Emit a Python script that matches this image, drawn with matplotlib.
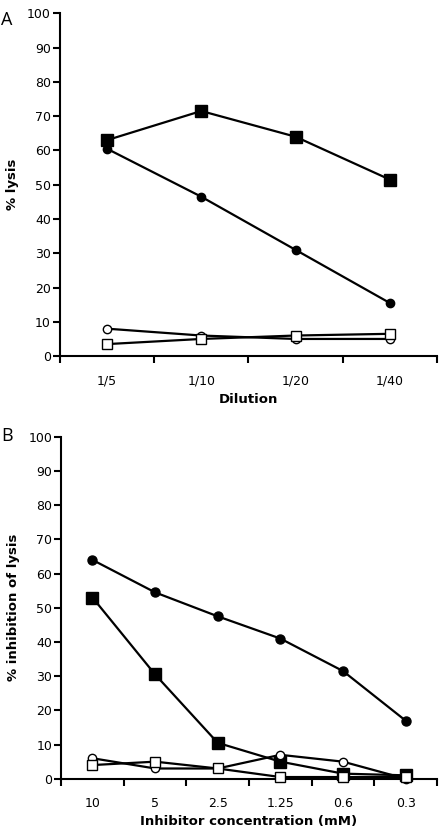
import numpy as np
import matplotlib
matplotlib.use('Agg')
import matplotlib.pyplot as plt

# Panel A data
dilutions = ['1/5', '1/10', '1/20', '1/40']
a_filled_sq = [63, 71.5, 64, 51.5]
a_filled_ci = [60.5, 46.5, 31, 15.5]
a_open_ci = [8, 6, 5, 5]
a_open_sq = [3.5, 5, 6, 6.5]

# Panel B data
concs = ['10', '5', '2.5', '1.25', '0.6', '0.3']
b_filled_ci = [64, 54.5, 47.5, 41, 31.5, 17]
b_filled_sq = [53, 30.5, 10.5, 5, 1.5, 1]
b_open_ci = [6, 3, 3, 7, 5, 0]
b_open_sq = [4, 5, 3, 0.5, 0.5, 0.5]

plt.rcParams['font.family'] = ['DejaVu Sans']

fig = plt.figure(figsize=(4.4, 8.32), dpi=100)
axA = fig.add_axes([0.136, 0.572, 0.857, 0.412])
axB = fig.add_axes([0.139, 0.064, 0.854, 0.411])


def style(ax, labels, series, xlabel, ylabel):
    x = np.arange(len(labels))
    for vals, marker, face, ms in series:
        ax.plot(x, vals, '-', color='black', lw=1.6, marker=marker,
                markersize=ms, markerfacecolor=face, markeredgecolor='black',
                markeredgewidth=1.0, clip_on=False, zorder=3)
    ax.set_xlim(-0.5, len(labels) - 0.5)
    ax.set_ylim(0, 100)
    ax.set_yticks(np.arange(0, 101, 10))
    ax.set_xticks(np.arange(len(labels) + 1) - 0.5)
    ax.set_xticklabels([])
    ax.set_xticks(x, minor=True)
    ax.set_xticklabels(labels, minor=True)
    ax.tick_params(axis='x', which='minor', length=0, pad=13, labelsize=9)
    ax.tick_params(axis='x', which='major', length=5, width=1.5, direction='out')
    ax.tick_params(axis='y', length=5, width=1.5, labelsize=9, direction='out', pad=1.5)
    for s in ['top', 'right']:
        ax.spines[s].set_visible(False)
    for s in ['left', 'bottom']:
        ax.spines[s].set_linewidth(1.5)
    ax.set_xlabel(xlabel, fontsize=9.5, fontweight='bold', labelpad=4)
    ax.set_ylabel(ylabel, fontsize=9.5, fontweight='bold', labelpad=6)


style(axA, dilutions,
      [(a_filled_sq, 's', 'black', 8.5),
       (a_filled_ci, 'o', 'black', 6),
       (a_open_ci, 'o', 'white', 6),
       (a_open_sq, 's', 'white', 7)],
      'Dilution', '% lysis')

style(axB, concs,
      [(b_filled_ci, 'o', 'black', 6.5),
       (b_filled_sq, 's', 'black', 8.5),
       (b_open_ci, 'o', 'white', 6),
       (b_open_sq, 's', 'white', 6.5)],
      'Inhibitor concentration (mM)', '% inhibition of lysis')

fig.text(0.002, 0.987, 'A', fontsize=13, va='top', ha='left', family='Open Sans')
fig.text(0.002, 0.487, 'B', fontsize=13, va='top', ha='left', family='Open Sans')

fig.savefig('out.png', dpi=100)
